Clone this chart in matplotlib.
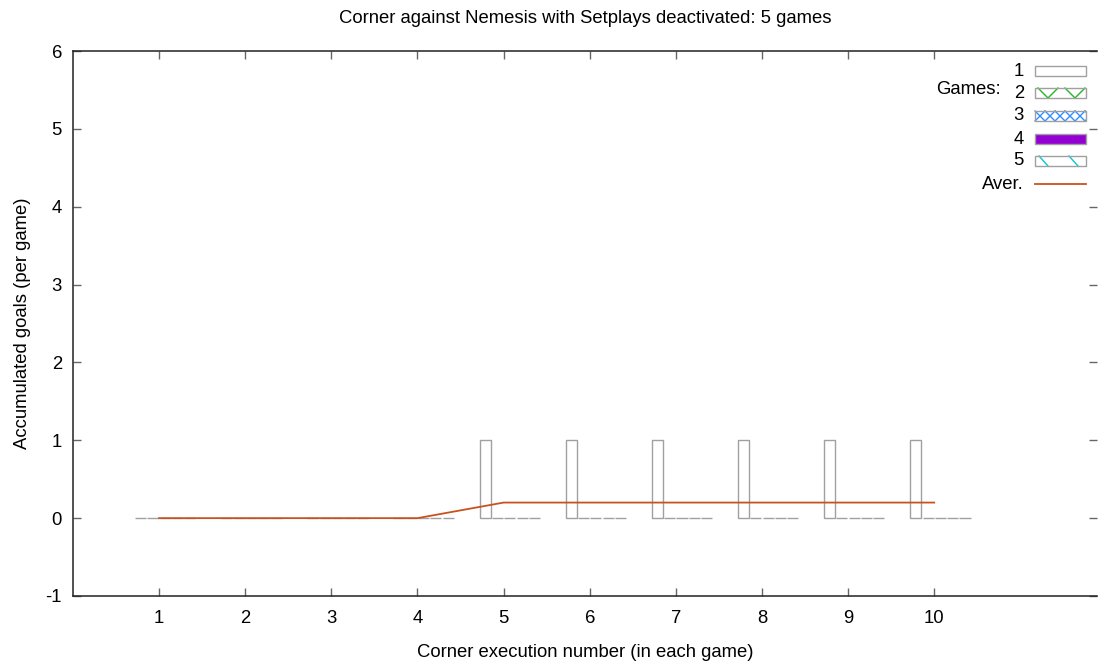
import numpy as np
import matplotlib
matplotlib.use("Agg")
import matplotlib.pyplot as plt
from matplotlib.patches import Rectangle
from matplotlib.lines import Line2D

plt.rcParams['font.family'] = ['Liberation Sans', 'DejaVu Sans']

# Accumulated goals per corner execution, one list per game
executions = list(range(1, 11))
game1 = [0, 0, 0, 0, 1, 1, 1, 1, 1, 1]
game2 = [0, 0, 0, 0, 0, 0, 0, 0, 0, 0]
game3 = [0, 0, 0, 0, 0, 0, 0, 0, 0, 0]
game4 = [0, 0, 0, 0, 0, 0, 0, 0, 0, 0]
game5 = [0, 0, 0, 0, 0, 0, 0, 0, 0, 0]
average = [0, 0, 0, 0, 0.2, 0.2, 0.2, 0.2, 0.2, 0.2]

game_labels = ["1", "2", "3", "4", "5"]
ytick_values = [-1, 0, 1, 2, 3, 4, 5, 6]

title = "Corner against Nemesis with Setplays deactivated: 5 games"
xlabel = "Corner execution number (in each game)"
ylabel = "Accumulated goals (per game)"

FS = 13.3

W, H = 1100, 661
fig = plt.figure(figsize=(W / 100, H / 100), dpi=100)
ax = fig.add_axes([73 / W, 1 - 596 / H, (1097 - 73) / W, (596 - 51) / H])

edge = "#a0a0a0"
green = "#22b822"
blue = "#2f8fff"
purple = "#9400d3"
cyan = "#00c8dc"
avg_color = "#c8521e"

games = [game1, game2, game3, game4, game5]
faces = ["none", "none", "none", purple, "none"]
x = np.array(executions, dtype=float)
bw = 1 / 7
for i, (vals, fc) in enumerate(zip(games, faces)):
    ax.bar(x + (i - 1.5) * bw, vals, width=bw * 0.9, facecolor=fc,
           edgecolor=edge, linewidth=1.0, zorder=2)

ax.plot(executions, average, color=avg_color, lw=1.3, zorder=3)

ax.set_xlim(0, 11.89)
ax.set_ylim(-1, 6)
ax.set_xticks(executions)
ax.set_xticklabels([str(e) for e in executions])
ax.set_yticks(ytick_values)
ax.set_yticklabels([str(v) for v in ytick_values])

for s in ["left", "bottom", "top"]:
    ax.spines[s].set_linewidth(1.1)
    ax.spines[s].set_color("#222222")
ax.spines["right"].set_visible(False)
ax.tick_params(direction="in", length=5.5, width=1.0, color="#666666",
               top=True, right=True, labelsize=FS)
ax.tick_params(axis="y", pad=8)
ax.tick_params(axis="x", pad=10)

ax.set_title(title, fontsize=FS, pad=20)
ax.set_xlabel(xlabel, fontsize=FS, labelpad=12.5)
ax.set_ylabel(ylabel, fontsize=FS, labelpad=10)


# Key drawn in pixel coordinates at the top right
def fx(px):
    return px / W


def fy(py):
    return 1 - py / H


rows = [71, 93, 116, 139, 161, 184]
bx0, bx1 = 1035, 1086
bh = 10
text_x = 1024
for lab, ry in zip(game_labels, rows[:5]):
    fig.text(fx(text_x), fy(ry), lab, ha="right", va="center", fontsize=FS)
fig.text(fx(text_x), fy(rows[5]), "Aver.", ha="right", va="center", fontsize=FS)
fig.text(fx(1001), fy(89), "Games:", ha="right", va="center", fontsize=FS)


def seg(x0, y0, x1, y1, c, lw=1.0):
    fig.add_artist(Line2D([fx(x0), fx(x1)], [fy(y0), fy(y1)], color=c, lw=lw,
                          transform=fig.transFigure))


for i, ry in enumerate(rows[:5]):
    top, bot = ry - bh / 2, ry + bh / 2
    fc = faces[i]
    fig.add_artist(Rectangle((fx(bx0), fy(bot)), fx(bx1 - bx0), bh / H,
                             transform=fig.transFigure, facecolor=fc,
                             edgecolor=edge, lw=1.0, zorder=3))
    if i == 1:
        for start in (1038, 1065):
            seg(start, top, start + 10, bot, green)
            seg(start + 10, bot, start + 20, top, green)
    elif i == 2:
        step = 10
        xs = np.arange(bx0, bx1, step)
        for xv in xs:
            x_end = min(xv + step, bx1)
            seg(xv, top, x_end, top + (x_end - xv) / step * bh, blue)
            seg(xv, bot, x_end, bot - (x_end - xv) / step * bh, blue)
    elif i == 4:
        for start in (1039, 1069):
            seg(start, top, start + 9, bot, cyan)

seg(bx0, rows[5], bx1, rows[5], avg_color, lw=1.3)

fig.savefig("out.png", dpi=100)
